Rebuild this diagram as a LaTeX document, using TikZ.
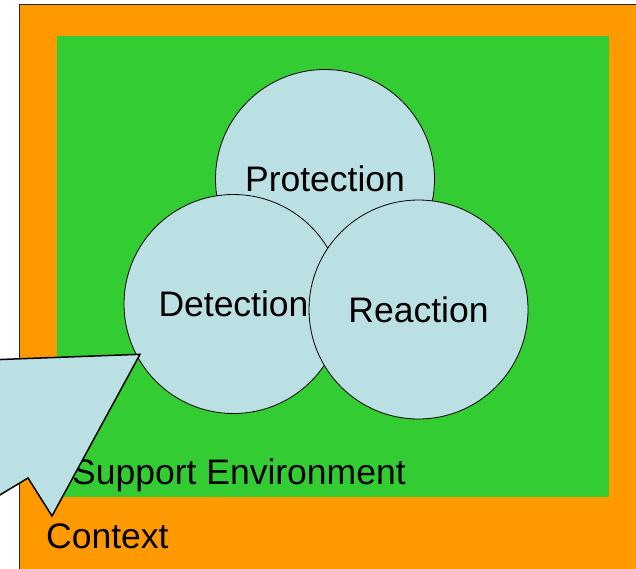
\documentclass[tikz,border=0pt]{standalone}
\usepackage{fontspec}
\setmainfont{Liberation Sans}
\definecolor{ctxorange}{HTML}{FF9900}
\definecolor{envgreen}{HTML}{33CC33}
\definecolor{bubble}{HTML}{BBE0E3}
\tikzset{
  bigtext/.style={font=\fontsize{35.5}{42}\selectfont, inner sep=0pt},
  ring/.style={circle, draw=black, line width=0.8pt, fill=bubble,
    minimum size=219pt, inner sep=0pt, bigtext},
  label text/.style={bigtext, anchor=base west},
}
\begin{document}
\begin{tikzpicture}[x=1pt, y=-1pt]
  \useasboundingbox (0,0) rectangle (636,568);
  \clip (0,0) rectangle (636,568);
  % outer context frame
  \fill[ctxorange] (19.5,4.7) rectangle (700,700);
  \draw[line width=1.5pt, black!85] (19.5,700) -- (19.5,4.7) -- (700,4.7);
  % support environment
  \fill[envgreen] (57,36.3) rectangle (609.3,497.3);
  % the three overlapping functions
  \node[ring] (prot) at (325,179) {Protection};
  \node[ring] (det)  at (233.5,304) {Detection};
  \node[ring] (react) at (418.5,309.5) {Reaction};
  % labels of the frames
  \node[label text] (env) at (72,484) {Support Environment};
  \node[label text] (ctx) at (46,548) {Context};
  % block arrow pointing into the detection circle
  \coordinate (tip) at (140,354.3);
  \filldraw[fill=bubble, draw=black, line width=1.5pt, line join=miter]
    (-40,361) -- (tip) -- (52,516) -- (28,478) -- (-40,519) -- cycle;
\end{tikzpicture}
\end{document}
